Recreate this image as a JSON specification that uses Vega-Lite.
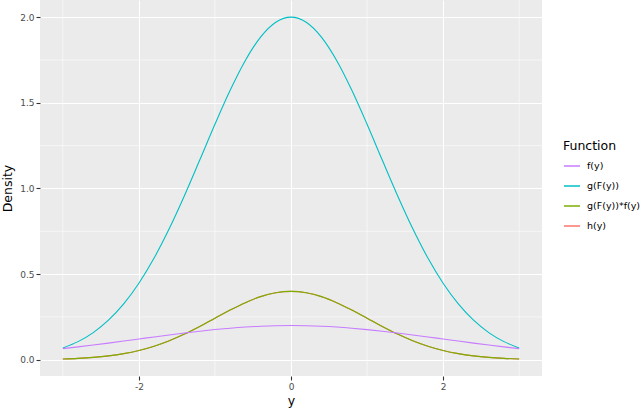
{
  "$schema": "https://vega.github.io/schema/vega-lite/v6.json",
  "width": 502,
  "height": 376,
  "autosize": {"type": "none"},
  "padding": {"left": 40, "top": 0, "right": 98, "bottom": 32},
  "background": "white",
  "config": {
    "font": "DejaVu Sans",
    "view": {"fill": "#EBEBEB", "stroke": null},
    "axis": {
      "domain": false,
      "grid": true,
      "gridColor": "#FFFFFF",
      "gridWidth": 1.1,
      "tickColor": "#333333",
      "tickSize": 4,
      "tickWidth": 1.1,
      "labelPadding": 2,
      "labelFontSize": 9,
      "labelColor": "#4D4D4D",
      "titleFontSize": 12.5,
      "titleFontWeight": "normal",
      "titleColor": "#000000"
    }
  },
  "layer": [
    {
      "data": {"values": [{"gx": -3}, {"gx": -1}, {"gx": 1}, {"gx": 3}]},
      "mark": {"type": "rule", "color": "#FFFFFF", "strokeWidth": 0.55},
      "encoding": {
        "x": {"field": "gx", "type": "quantitative", "scale": {"domain": [-3.3, 3.3], "nice": false, "zero": false}, "title": "y"}
      }
    },
    {
      "data": {"values": [{"gy": 0.25}, {"gy": 0.75}, {"gy": 1.25}, {"gy": 1.75}]},
      "mark": {"type": "rule", "color": "#FFFFFF", "strokeWidth": 0.55},
      "encoding": {
        "y": {"field": "gy", "type": "quantitative", "scale": {"domain": [-0.095, 2.1], "nice": false, "zero": false}, "title": "Density"}
      }
    },
    {
      "data": {
        "values": [
          {"y": -3.0, "f(y)": 0.0648, "g(F(y))": 0.0684, "g(F(y))*f(y)": 0.0044, "h(y)": 0.0044},
          {"y": -2.8, "f(y)": 0.0749, "g(F(y))": 0.1057, "g(F(y))*f(y)": 0.0079, "h(y)": 0.0079},
          {"y": -2.6, "f(y)": 0.0857, "g(F(y))": 0.1585, "g(F(y))*f(y)": 0.0136, "h(y)": 0.0136},
          {"y": -2.4, "f(y)": 0.0971, "g(F(y))": 0.2307, "g(F(y))*f(y)": 0.0224, "h(y)": 0.0224},
          {"y": -2.2, "f(y)": 0.1089, "g(F(y))": 0.3257, "g(F(y))*f(y)": 0.0355, "h(y)": 0.0355},
          {"y": -2.0, "f(y)": 0.1210, "g(F(y))": 0.4463, "g(F(y))*f(y)": 0.0540, "h(y)": 0.0540},
          {"y": -1.8, "f(y)": 0.1330, "g(F(y))": 0.5934, "g(F(y))*f(y)": 0.0790, "h(y)": 0.0790},
          {"y": -1.6, "f(y)": 0.1448, "g(F(y))": 0.7658, "g(F(y))*f(y)": 0.1109, "h(y)": 0.1109},
          {"y": -1.4, "f(y)": 0.1561, "g(F(y))": 0.9590, "g(F(y))*f(y)": 0.1497, "h(y)": 0.1497},
          {"y": -1.2, "f(y)": 0.1666, "g(F(y))": 1.1655, "g(F(y))*f(y)": 0.1942, "h(y)": 0.1942},
          {"y": -1.0, "f(y)": 0.1760, "g(F(y))": 1.3746, "g(F(y))*f(y)": 0.2420, "h(y)": 0.2420},
          {"y": -0.8, "f(y)": 0.1841, "g(F(y))": 1.5733, "g(F(y))*f(y)": 0.2897, "h(y)": 0.2897},
          {"y": -0.6, "f(y)": 0.1907, "g(F(y))": 1.7474, "g(F(y))*f(y)": 0.3332, "h(y)": 0.3332},
          {"y": -0.4, "f(y)": 0.1955, "g(F(y))": 1.8835, "g(F(y))*f(y)": 0.3683, "h(y)": 0.3683},
          {"y": -0.2, "f(y)": 0.1985, "g(F(y))": 1.9702, "g(F(y))*f(y)": 0.3910, "h(y)": 0.3910},
          {"y": 0.0, "f(y)": 0.1995, "g(F(y))": 2.0000, "g(F(y))*f(y)": 0.3989, "h(y)": 0.3989},
          {"y": 0.2, "f(y)": 0.1985, "g(F(y))": 1.9702, "g(F(y))*f(y)": 0.3910, "h(y)": 0.3910},
          {"y": 0.4, "f(y)": 0.1955, "g(F(y))": 1.8835, "g(F(y))*f(y)": 0.3683, "h(y)": 0.3683},
          {"y": 0.6, "f(y)": 0.1907, "g(F(y))": 1.7474, "g(F(y))*f(y)": 0.3332, "h(y)": 0.3332},
          {"y": 0.8, "f(y)": 0.1841, "g(F(y))": 1.5733, "g(F(y))*f(y)": 0.2897, "h(y)": 0.2897},
          {"y": 1.0, "f(y)": 0.1760, "g(F(y))": 1.3746, "g(F(y))*f(y)": 0.2420, "h(y)": 0.2420},
          {"y": 1.2, "f(y)": 0.1666, "g(F(y))": 1.1655, "g(F(y))*f(y)": 0.1942, "h(y)": 0.1942},
          {"y": 1.4, "f(y)": 0.1561, "g(F(y))": 0.9590, "g(F(y))*f(y)": 0.1497, "h(y)": 0.1497},
          {"y": 1.6, "f(y)": 0.1448, "g(F(y))": 0.7658, "g(F(y))*f(y)": 0.1109, "h(y)": 0.1109},
          {"y": 1.8, "f(y)": 0.1330, "g(F(y))": 0.5934, "g(F(y))*f(y)": 0.0790, "h(y)": 0.0790},
          {"y": 2.0, "f(y)": 0.1210, "g(F(y))": 0.4463, "g(F(y))*f(y)": 0.0540, "h(y)": 0.0540},
          {"y": 2.2, "f(y)": 0.1089, "g(F(y))": 0.3257, "g(F(y))*f(y)": 0.0355, "h(y)": 0.0355},
          {"y": 2.4, "f(y)": 0.0971, "g(F(y))": 0.2307, "g(F(y))*f(y)": 0.0224, "h(y)": 0.0224},
          {"y": 2.6, "f(y)": 0.0857, "g(F(y))": 0.1585, "g(F(y))*f(y)": 0.0136, "h(y)": 0.0136},
          {"y": 2.8, "f(y)": 0.0749, "g(F(y))": 0.1057, "g(F(y))*f(y)": 0.0079, "h(y)": 0.0079},
          {"y": 3.0, "f(y)": 0.0648, "g(F(y))": 0.0684, "g(F(y))*f(y)": 0.0044, "h(y)": 0.0044}
        ]
      },
      "transform": [
        {"fold": ["h(y)", "g(F(y))*f(y)", "g(F(y))", "f(y)"], "as": ["Function", "Density"]}
      ],
      "mark": {"type": "line", "interpolate": "monotone", "strokeWidth": 1.1},
      "encoding": {
        "x": {
          "field": "y", "type": "quantitative",
          "scale": {"domain": [-3.3, 3.3], "nice": false, "zero": false},
          "title": "y",
          "axis": {"values": [-2, 0, 2], "titlePadding": 3, "labelExpr": "datum.value < 0 ? '-' + format(-datum.value, 'd') : format(datum.value, 'd')"}
        },
        "y": {
          "field": "Density", "type": "quantitative",
          "scale": {"domain": [-0.095, 2.1], "nice": false, "zero": false},
          "title": "Density",
          "axis": {"values": [0, 0.5, 1, 1.5, 2], "format": ".1f", "titlePadding": 5}
        },
        "color": {
          "field": "Function", "type": "nominal",
          "scale": {
            "domain": ["f(y)", "g(F(y))", "g(F(y))*f(y)", "h(y)"],
            "range": ["#C77CFF", "#00BFC4", "#7CAE00", "#F8766D"]
          },
          "legend": {
            "orient": "none",
            "legendX": 523,
            "legendY": 139.5,
            "padding": 0,
            "title": "Function",
            "titleFontSize": 12.5,
            "titleFontWeight": "normal",
            "titleColor": "#000000",
            "titlePadding": 5,
            "labelFontSize": 9.5,
            "labelColor": "#000000",
            "labelOffset": 6,
            "symbolType": "stroke",
            "symbolSize": 256,
            "symbolStrokeWidth": 1.5,
            "rowPadding": 6
          }
        }
      }
    }
  ]
}
